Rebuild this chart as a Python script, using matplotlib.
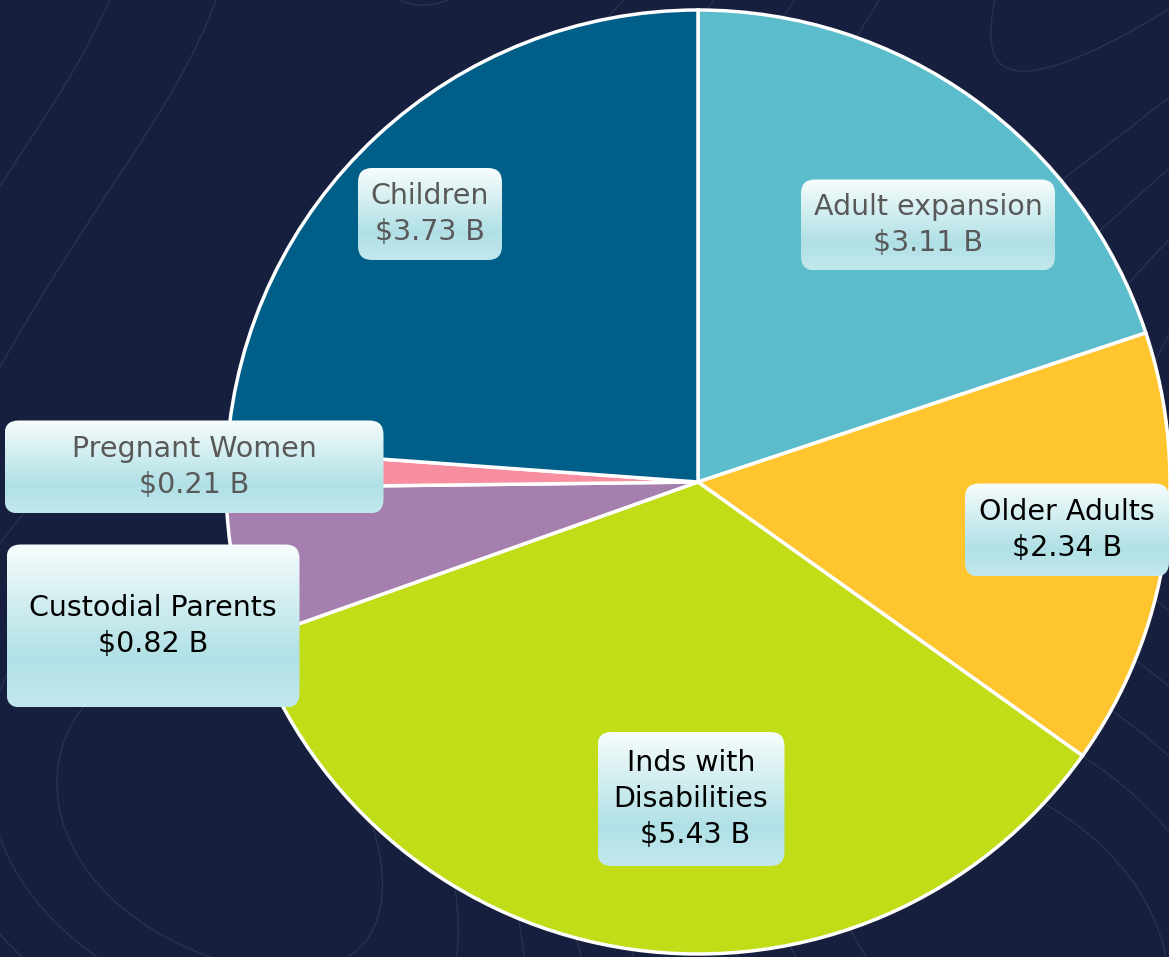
import numpy as np
import matplotlib.pyplot as plt
from matplotlib.patches import FancyBboxPatch

# Spending by eligibility group (billions of dollars)
groups = ["Adult expansion", "Older Adults", "Inds with\nDisabilities",
          "Custodial Parents", "Pregnant Women", "Children"]
spend = [3.11, 2.34, 5.43, 0.82, 0.21, 3.73]
colors = ["#5bbccb", "#ffc52e", "#c0dd18", "#a57fae", "#f88fa0", "#005f89"]
text_colors = ["#595959", "#000000", "#000000", "#000000", "#595959", "#595959"]

# label boxes: (center x, center y, width, height) in pixel units, y from top
boxes = [(928, 225, 254, 91), (1067, 530, 204, 93), (691, 799, 187, 134),
         (153, 626, 293, 163), (194, 467, 379, 93), (430, 214, 144, 92)]

W, H = 1169, 957
BG = "#161f3d"

fig = plt.figure(figsize=(W / 100, H / 100), dpi=100, facecolor=BG)
ax = fig.add_axes([0, 0, 1, 1])
ax.set_facecolor(BG)

# faint topographic lines behind the chart
gx, gy = np.meshgrid(np.linspace(0, W, 300), np.linspace(0, H, 250))
topo = (np.sin(gx / 220.0 + np.sin(gy / 260.0) * 1.2)
        + 0.5 * np.cos(gy / 180.0 - gx / 300.0))
ax.contour(gx, gy, topo, levels=9, colors="#283251", linewidths=1.0,
           linestyles="solid", zorder=0)

ax.pie(spend, colors=colors, startangle=90, counterclock=False,
       center=(698, H - 482), radius=472, frame=True,
       wedgeprops=dict(edgecolor="white", linewidth=2.5))
ax.set_xlim(0, W)
ax.set_ylim(0, H)
ax.set_aspect("equal")
ax.axis("off")

# vertical gradient used to fill the label boxes
grad = np.linspace(0, 1, 256)
top = np.array([0.97, 0.99, 0.99])
mid = np.array([0.69, 0.88, 0.90])
bot = np.array([0.76, 0.91, 0.93])
rgb = np.where(grad[:, None] < 0.7,
               top + (mid - top) * (grad[:, None] / 0.7),
               mid + (bot - mid) * ((grad[:, None] - 0.7) / 0.3))
grad_img = np.repeat(rgb[:, None, :], 2, axis=1)

for name, val, (cx, cy, bw, bh), tc in zip(groups, spend, boxes, text_colors):
    x0, y0 = cx - bw / 2, H - cy - bh / 2
    patch = FancyBboxPatch((x0, y0), bw, bh,
                           boxstyle="round,pad=0,rounding_size=14",
                           facecolor="none", edgecolor="none", zorder=5)
    ax.add_patch(patch)
    im = ax.imshow(grad_img, extent=(x0, x0 + bw, y0, y0 + bh),
                   origin="upper", aspect="auto", zorder=4)
    im.set_clip_path(patch)
    amount = f"${val:.2f} B"
    if "\n" in name:
        amount = " " + amount
    ax.text(cx, H - cy, f"{name}\n{amount}", ha="center", va="center",
            fontsize=20.5, color=tc, linespacing=1.36, zorder=6,
            family="DejaVu Sans")

ax.set_xlim(0, W)
ax.set_ylim(0, H)
fig.savefig("out.png", dpi=100, facecolor=BG)
